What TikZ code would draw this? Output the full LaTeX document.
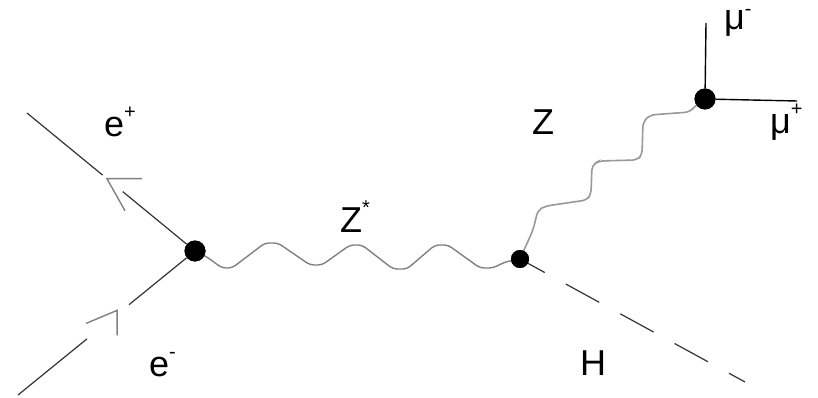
\documentclass[tikz,border=0pt]{standalone}
\usepackage{fontspec}
\setmainfont{Liberation Sans}
\usetikzlibrary{calc}
\newcommand\lbl[3][18pt]{#2\raisebox{#1}{\fontsize{20}{20}\selectfont #3}}
\begin{document}
\begin{tikzpicture}[x=1pt,y=-1pt,
  vtx/.style={circle,fill=black,inner sep=0pt,minimum size=19pt},
  fermion/.style={draw=black!80,line width=1.2pt},
  arrowst/.style={draw=black!50,line width=1.4pt},
  boson/.style={draw=black!50,line width=1.4pt,rounded corners=4pt},
  zboson/.style={draw=black!40,line width=1.6pt,rounded corners=5pt},
  higgs/.style={draw=black!80,line width=1.2pt,dash pattern=on 38pt off 24pt,dash phase=19pt},
  muon/.style={draw=black,line width=1.4pt},
  lab/.style={anchor=base west,inner sep=0pt,font=\fontsize{36}{36}\selectfont}]
\useasboundingbox (0,0) rectangle (818,398);

% vertices
\node[vtx,minimum width=21pt,minimum height=19pt] (A) at (195,251) {};
\node[vtx,minimum size=18pt] (B) at (520,259) {};
\node[vtx,minimum width=21pt,minimum height=18pt] (C) at (705,99) {};

% free ends
\coordinate (ep) at (27,113);
\coordinate (em) at (18,395);
\coordinate (hend) at (745,382);
\coordinate (mum) at (706,23);
\coordinate (mup) at (797,101);

% e+ line with arrow
\draw[fermion] (ep) -- ($(ep)!0.45!(A)$);
\draw[fermion] ($(ep)!0.57!(A)$) -- (A);
\coordinate (t1) at ($(ep)!0.476!(A)$);
\draw[arrowst] ($(t1)+(35,0)$) -- (t1) -- ++(18,32);

% e- line with arrow
\draw[fermion] (em) -- ($(em)!0.39!(A)$);
\draw[fermion] ($(em)!0.627!(A)$) -- (A);
\coordinate (t2) at ($(em)!0.56!(A)+(0,-4)$);
\draw[arrowst] ($(t2)+(-31,13)$) -- (t2) -- ++(0,25);

% Z* wave
\draw[boson] (A) -- (207,257) -- (222,268) -- (232,268) -- (265,243) -- (278,243)
  -- (310,265) -- (322,265) -- (350,245) -- (362,245) -- (393,269) -- (407,269)
  -- (435,245) -- (448,245) -- (480,268) -- (493,268) -- (505,262) -- (B);

% Z staircase
\draw[zboson] (B) -- (533,230) -- (538,210) -- (546,206) -- (587,200) -- (591,194)
  -- (592,165) -- (599,161) -- (637,160) -- (642,155) -- (643,122) -- (650,115)
  -- (690,112) -- (695,106) -- (C);

% Higgs
\draw[higgs] (B) -- (hend);

% muons
\draw[muon] (C) -- (mum);
\draw[muon] (C) -- (mup);
\node[vtx,minimum width=21pt,minimum height=18pt] at (C) {};
\node[vtx,minimum width=21pt,minimum height=19pt] at (A) {};
\node[vtx,minimum size=18pt] at (B) {};

% labels
\node[lab] (lep) at (104,137) {\lbl{e}{+}};
\node[lab] (lem) at (149,376) {\lbl{e}{-}};
\node[lab] (lzs) at (340,232) {\lbl{Z}{*}};
\node[lab] (lz) at (532,135) {Z};
\node[lab] (lh) at (580,375) {H};
\node[lab] (lmm) at (724,30) {\lbl[14pt]{μ}{-}};
\node[lab] (lmp) at (770,134) {\lbl{μ}{+}};
\end{tikzpicture}
\end{document}
